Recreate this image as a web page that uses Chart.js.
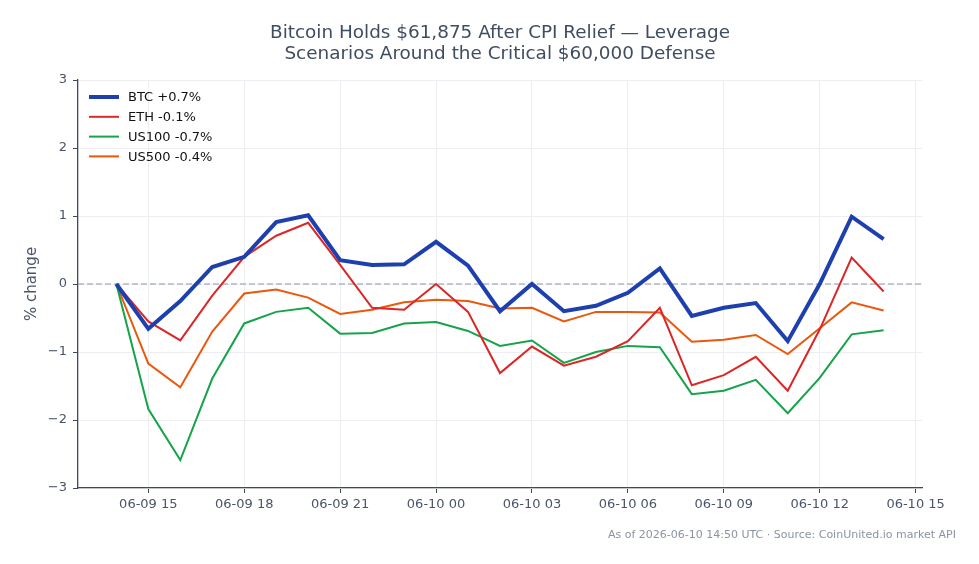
<!DOCTYPE html>
<html><head><meta charset="utf-8">
<script src="https://cdn.jsdelivr.net/npm/chart.js@4.4.1/dist/chart.umd.min.js"></script>
<style>html,body{margin:0;padding:0;background:#fff;}#wrap{width:979px;height:564px;position:relative;}</style>
</head><body><div id="wrap"><canvas id="c" width="979" height="564"></canvas></div>
<script>
// hours after 2026-06-09 14:00 UTC
const hours = [0,1,2,3,4,5,6,7,8,9,10,11,12,13,14,15,16,17,18,19,20,21,22,23,24];
const btc   = [0,-0.66,-0.25,0.25,0.40,0.91,1.01,0.35,0.28,0.29,0.62,0.27,-0.40,0.0,-0.40,-0.32,-0.13,0.23,-0.47,-0.35,-0.28,-0.84,0.0,0.99,0.66];
const eth   = [0,-0.55,-0.83,-0.17,0.40,0.71,0.90,0.28,-0.35,-0.38,0.0,-0.41,-1.31,-0.92,-1.20,-1.07,-0.84,-0.35,-1.49,-1.34,-1.07,-1.57,-0.67,0.39,-0.11];
const us100 = [0,-1.84,-2.59,-1.39,-0.58,-0.41,-0.35,-0.73,-0.72,-0.58,-0.56,-0.69,-0.91,-0.83,-1.16,-1.00,-0.91,-0.93,-1.62,-1.57,-1.41,-1.90,-1.38,-0.74,-0.68];
const us500 = [0,-1.17,-1.52,-0.70,-0.14,-0.08,-0.20,-0.44,-0.38,-0.27,-0.23,-0.25,-0.36,-0.35,-0.55,-0.41,-0.41,-0.42,-0.85,-0.82,-0.75,-1.03,-0.65,-0.27,-0.39];
const seriesLabels = ["BTC +0.7%","ETH -0.1%","US100 -0.7%","US500 -0.4%"];
const xTickHours = [1,4,7,10,13,16,19,22,25];
const xTickLabels = ["06-09 15","06-09 18","06-09 21","06-10 00","06-10 03","06-10 06","06-10 09","06-10 12","06-10 15"];
const yTicks = [-3,-2,-1,0,1,2,3];
const titleLines = ["Bitcoin Holds $61,875 After CPI Relief — Leverage","Scenarios Around the Critical $60,000 Defense"];
const footnote = "As of 2026-06-10 14:50 UTC · Source: CoinUnited.io market API";

const colors = ["#1e40af","#dc2626","#16a34a","#ea580c"];
const widths = [4,2,2,2];
const FONT = "'DejaVu Sans', sans-serif";
const toPts = arr => arr.map((v,i)=>({x:hours[i], y:v}));

const dsets = [btc,eth,us100,us500].map((arr,i)=>({
  label: seriesLabels[i], data: toPts(arr), borderColor: colors[i], backgroundColor: colors[i],
  borderWidth: widths[i], pointRadius: 0, tension: 0, fill: false, borderJoinStyle: 'miter'
}));

const extras = {
  id: 'extras',
  beforeDatasetsDraw(chart){
    const {ctx, chartArea:a, scales:{y}} = chart;
    const yp = y.getPixelForValue(0);
    ctx.save();
    ctx.strokeStyle = '#8d9ab0'; ctx.lineWidth = 1.2; ctx.setLineDash([6,3]);
    ctx.beginPath(); ctx.moveTo(a.left, yp); ctx.lineTo(a.right, yp); ctx.stroke();
    ctx.restore();
  },
  afterDraw(chart){
    const {ctx, chartArea:a} = chart;
    ctx.save();
    ctx.fillStyle = '#3f4d60'; ctx.font = "18.4px " + FONT; ctx.textAlign='center'; ctx.textBaseline='middle';
    const cx = (a.left + a.right)/2;
    ctx.fillText(titleLines[0], cx, 33);
    ctx.fillText(titleLines[1], cx, 54);
    ctx.fillStyle = '#8a94a3'; ctx.font = "11px " + FONT; ctx.textAlign='right';
    ctx.fillText(footnote, 956, 535);
    ctx.font = "13px " + FONT; ctx.textAlign='left';
    chart.data.datasets.forEach((d,i)=>{
      const yy = a.top + 17 + i*19.8;
      ctx.strokeStyle = d.borderColor; ctx.lineWidth = d.borderWidth; ctx.setLineDash([]);
      ctx.beginPath(); ctx.moveTo(a.left+11, yy); ctx.lineTo(a.left+41, yy); ctx.stroke();
      ctx.fillStyle = '#111';
      ctx.fillText(d.label, a.left+50, yy+1);
    });
    ctx.restore();
  }
};

new Chart(document.getElementById('c'), {
  type: 'line',
  data: { datasets: dsets },
  options: {
    responsive: false, animation: false, devicePixelRatio: 1,
    layout: { padding: { left: 0, right: 57, top: 80, bottom: 0 } },
    plugins: { legend: { display: false }, title: { display: false }, tooltip: { enabled: false } },
    scales: {
      x: {
        type: 'linear', min: -1.2, max: 25.2,
        afterBuildTicks: s => { s.ticks = xTickHours.map(v=>({value:v})); },
        afterFit: s => { s.height = 76; },
        ticks: { callback: v => { const k = xTickHours.indexOf(v); return k>=0 ? xTickLabels[k] : ''; },
                 color: '#4a5568', font: { family: FONT, size: 13 }, maxRotation: 0, autoSkip: false, padding: 4 },
        grid: { color: '#eceef1', lineWidth: 1, drawTicks: true, tickLength: 5, tickColor: '#3d4a5c' },
        border: { display: true, color: '#3d4a5c', width: 1.3 }
      },
      y: {
        type: 'linear', min: -3, max: 3,
        afterBuildTicks: s => { s.ticks = yTicks.map(v=>({value:v})); },
        afterFit: s => { s.width = 78; },
        ticks: { callback: v => (v<0 ? '\u2212' + Math.abs(v) : String(v)), color: '#4a5568', font: { family: FONT, size: 13 }, padding: 6 },
        title: { display: true, text: '% change', color: '#4a5568', font: { family: FONT, size: 15 }, padding: { top: 23, bottom: 0 } },
        grid: { color: '#eceef1', lineWidth: 1, drawTicks: true, tickLength: 5, tickColor: '#3d4a5c' },
        border: { display: true, color: '#3d4a5c', width: 1.3 }
      }
    }
  },
  plugins: [extras]
});
</script></body></html>
